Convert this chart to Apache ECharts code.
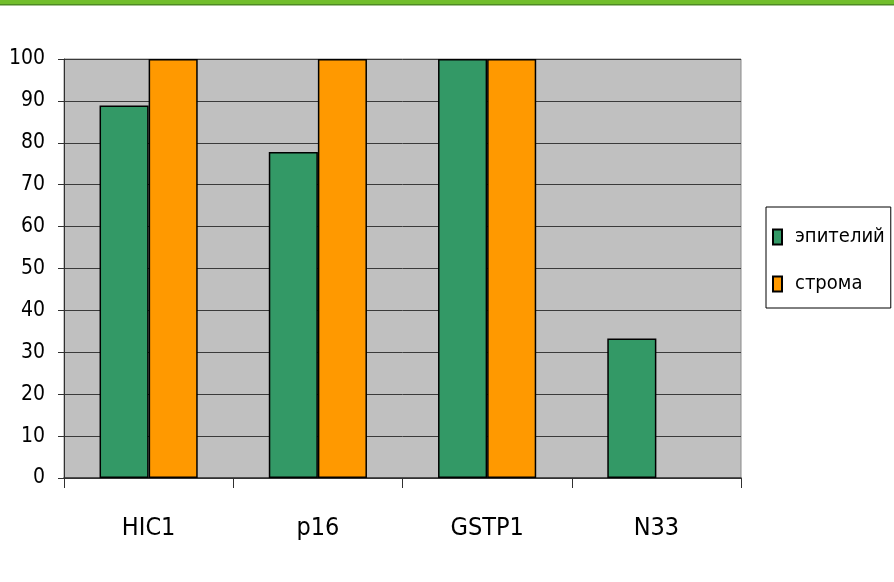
<!DOCTYPE html>
<html>
<head>
<meta charset="utf-8">
<script src="https://cdn.jsdelivr.net/npm/echarts@6/dist/echarts.min.js"></script>
<style>
  html, body { margin: 0; padding: 0; background: #ffffff; }
  #chart { width: 894px; height: 582px; }
</style>
</head>
<body>
<div id="chart"></div>
<script>
// Genes on the category axis
const genes = ['HIC1', 'p16', 'GSTP1', 'N33'];
// Percentage per tissue type
const epithelium = [88.9, 77.8, 100, 33.3];
const stroma = [100, 100, 100, 0];
const seriesNames = ['эпителий', 'строма'];

const FONT = '"DejaVu Sans Condensed", "Liberation Sans Narrow", "Arial Narrow", sans-serif';

const chart = echarts.init(document.getElementById('chart'), null, { renderer: 'canvas' });
chart.setOption({
  animation: false,
  backgroundColor: '#ffffff',
  graphic: [
    { type: 'rect', shape: { x: 0, y: 0, width: 894, height: 4 }, style: { fill: '#72be2c' } },
    { type: 'rect', shape: { x: 0, y: 4, width: 894, height: 1.5 }, style: { fill: '#4f8a24' } }
  ],
  grid: {
    left: 64, top: 59, right: 153, bottom: 104,
    show: true, backgroundColor: '#c0c0c0', borderColor: '#8a8a8a', borderWidth: 1
  },
  legend: {
    orient: 'vertical',
    left: 766, top: 207,
    padding: [20, 6, 14, 6],
    itemGap: 27,
    itemWidth: 9, itemHeight: 15,
    borderColor: '#000000', borderWidth: 1,
    backgroundColor: '#ffffff',
    textStyle: { fontFamily: FONT, fontSize: 20, color: '#000000', padding: [0, 0, 0, 8] },
    data: seriesNames.map(n => ({ name: n, icon: 'rect' }))
  },
  xAxis: {
    type: 'category',
    data: genes,
    axisLine: { lineStyle: { color: '#303030', width: 1.5 } },
    axisTick: { show: true, length: 10, lineStyle: { color: '#303030' } },
    axisLabel: { fontFamily: FONT, fontSize: 25, color: '#000000', margin: 38 },
    splitLine: { show: false }
  },
  yAxis: {
    type: 'value',
    min: 0, max: 100, interval: 10,
    axisLine: { show: true, lineStyle: { color: '#303030', width: 1 } },
    axisTick: { show: true, length: 6, lineStyle: { color: '#303030' } },
    axisLabel: { fontFamily: FONT, fontSize: 21, color: '#000000', margin: 19 },
    splitLine: { show: true, lineStyle: { color: '#3a3a3a', width: 1 } }
  },
  series: [
    {
      name: seriesNames[0], type: 'bar', data: epithelium,
      barGap: '0%', barCategoryGap: '42%',
      itemStyle: { color: '#339966', borderColor: '#000000', borderWidth: 1.5 }
    },
    {
      name: seriesNames[1], type: 'bar',
      // a zero value draws no outline
      data: stroma.map(v => v === 0 ? { value: v, itemStyle: { borderWidth: 0 } } : v),
      barGap: '0%', barCategoryGap: '42%',
      itemStyle: { color: '#ff9900', borderColor: '#000000', borderWidth: 1.5 }
    }
  ]
});
</script>
</body>
</html>
